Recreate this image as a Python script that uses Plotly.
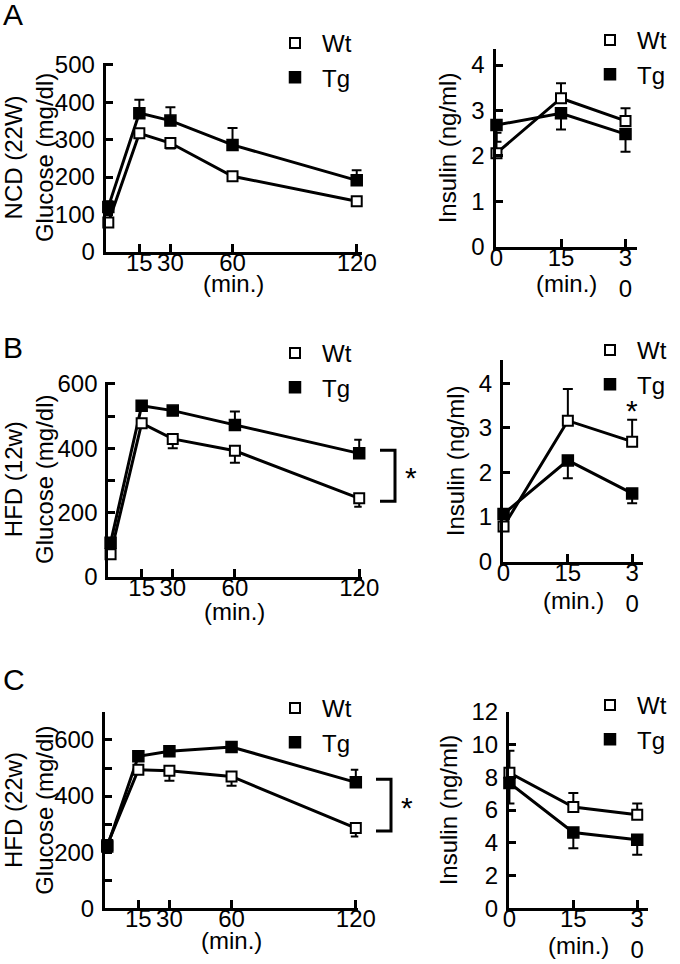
import plotly.graph_objects as go

# ---------------- data ----------------
time_glucose = [0, 15, 30, 60, 120]
time_insulin = [0, 15, 30]
series_names = ["Wt", "Tg"]

# Panel A: NCD (22W)
glu_A_wt = [78, 317, 291, 202, 135]
glu_A_wt_err = [8, 10, 15, 10, 10]
glu_A_tg = [120, 371, 351, 286, 191]
glu_A_tg_err = [15, 36, 36, 45, 27]
ins_A_wt = [2.06, 3.27, 2.77]
ins_A_wt_err = [0.45, 0.33, 0.28]
ins_A_tg = [2.68, 2.94, 2.48]
ins_A_tg_err = [0.37, 0.36, 0.39]

# Panel B: HFD (12w)
glu_B_wt = [70, 478, 429, 392, 244]
glu_B_wt_err = [10, 15, 29, 37, 26]
glu_B_tg = [106, 532, 517, 472, 384]
glu_B_tg_err = [10, 10, 10, 42, 42]
ins_B_wt = [0.79, 3.16, 2.69]
ins_B_wt_err = [0.1, 0.71, 0.49]
ins_B_tg = [1.07, 2.27, 1.53]
ins_B_tg_err = [0.1, 0.40, 0.22]

# Panel C: HFD (22w)
glu_C_wt = [226, 494, 490, 470, 286]
glu_C_wt_err = [15, 10, 35, 33, 30]
glu_C_tg = [220, 542, 560, 575, 449]
glu_C_tg_err = [15, 15, 10, 10, 45]
ins_C_wt = [8.27, 6.18, 5.71]
ins_C_wt_err = [1.35, 0.86, 0.68]
ins_C_tg = [7.65, 4.63, 4.18]
ins_C_tg_err = [1.25, 0.96, 0.91]

# tick labels
glu_x_ticks = [15, 30, 60, 120]
glu_x_ticktext = ["15", "30", "60", "120"]
ins_x_ticks = [0, 15, 30]
ins_x_ticktext = ["0", "15", "3<br>0"]
glu_A_y_ticks = [0, 100, 200, 300, 400, 500]
glu_A_y_ticktext = ["0", "100", "200", "300", "400", "500"]
glu_B_y_ticks = [0, 100, 200, 300, 400, 500, 600]
glu_B_y_ticktext = ["0", "", "200", "", "400", "", "600"]
glu_C_y_ticks = [0, 100, 200, 300, 400, 500, 600, 700]
glu_C_y_ticktext = ["0", "", "200", "", "400", "", "600", ""]
ins_AB_y_ticks = [0, 1, 2, 3, 4]
ins_AB_y_ticktext = ["0", "1", "2", "3", "4"]
ins_C_y_ticks = [0, 2, 4, 6, 8, 10, 12]
ins_C_y_ticktext = ["0", "2", "4", "6", "8", "10", "12"]

panel_letters = ["A", "B", "C"]
glu_titles = ["NCD (22W)<br>Glucose (mg/dl)", "HFD (12w)<br>Glucose (mg/dl)",
              "HFD (22w)<br>Glucose (mg/dl)"]
ins_title = "Insulin (ng/ml)"
x_title = "(min.)"

# ---------------- layout geometry (pixels) ----------------
W, H = 680, 964
FONT = "Liberation Sans, Arial, Helvetica, sans-serif"
FS = 24


def fx(px):
    return px / W


def fy(py):
    return 1 - py / H


# (x_left_px, x_right_px, x_range, y_top_px, y_bottom_px, y_range)
geom = {
    1: (105.7, 361.7, [-1.26, 122.4], 63.1, 251.7, [0, 505]),
    2: (495.5, 636.7, [-0.23, 32.6], 49.2, 246.7, [0, 4.35]),
    3: (108.3, 361.7, [-1.1, 121.2], 381.7, 576.7, [0, 607]),
    4: (502.9, 643.3, [-0.15, 32.6], 360.0, 561.7, [0, 4.52]),
    5: (105.0, 358.3, [-1.1, 121.2], 711.9, 908.3, [0, 700]),
    6: (509.0, 648.3, [-0.1, 32.6], 711.7, 908.3, [0, 12.0]),
}

fig = go.Figure()


def add_panel(idx, x, wt, wt_err, tg, tg_err, wt_up):
    xa = "x" if idx == 1 else f"x{idx}"
    ya = "y" if idx == 1 else f"y{idx}"
    leg = "legend" if idx == 1 else f"legend{idx}"
    for y in (wt, tg):
        fig.add_trace(go.Scatter(
            x=x, y=y, mode="lines", line=dict(color="black", width=3),
            xaxis=xa, yaxis=ya, showlegend=False, hoverinfo="skip",
            cliponaxis=False))
    zero = [0] * len(x)
    err_style = dict(type="data", symmetric=False, color="black",
                     thickness=2, width=5)
    wt_e = dict(err_style, array=wt_err if wt_up else zero,
                arrayminus=zero if wt_up else wt_err)
    tg_e = dict(err_style, array=zero if wt_up else tg_err,
                arrayminus=tg_err if wt_up else zero)
    fig.add_trace(go.Scatter(
        x=x, y=wt, mode="markers", name=series_names[0],
        marker=dict(symbol="square", size=10, color="white",
                    line=dict(color="black", width=2)),
        error_y=wt_e, xaxis=xa, yaxis=ya, legend=leg, cliponaxis=False))
    fig.add_trace(go.Scatter(
        x=x, y=tg, mode="markers", name=series_names[1],
        marker=dict(symbol="square", size=11, color="black",
                    line=dict(color="black", width=1.5)),
        error_y=tg_e, xaxis=xa, yaxis=ya, legend=leg, cliponaxis=False))


add_panel(1, time_glucose, glu_A_wt, glu_A_wt_err, glu_A_tg, glu_A_tg_err, False)
add_panel(2, time_insulin, ins_A_wt, ins_A_wt_err, ins_A_tg, ins_A_tg_err, True)
add_panel(3, time_glucose, glu_B_wt, glu_B_wt_err, glu_B_tg, glu_B_tg_err, False)
add_panel(4, time_insulin, ins_B_wt, ins_B_wt_err, ins_B_tg, ins_B_tg_err, True)
add_panel(5, time_glucose, glu_C_wt, glu_C_wt_err, glu_C_tg, glu_C_tg_err, False)
add_panel(6, time_insulin, ins_C_wt, ins_C_wt_err, ins_C_tg, ins_C_tg_err, True)

tickfont = dict(size=FS, color="black", family=FONT)
layout = dict(
    template="none",
    width=W, height=H, margin=dict(l=0, r=0, t=0, b=0, pad=0, autoexpand=False),
    paper_bgcolor="white", plot_bgcolor="white",
    font=dict(family=FONT, color="black", size=FS),
)

y_ticks = {1: (glu_A_y_ticks, glu_A_y_ticktext), 2: (ins_AB_y_ticks, ins_AB_y_ticktext),
           3: (glu_B_y_ticks, glu_B_y_ticktext), 4: (ins_AB_y_ticks, ins_AB_y_ticktext),
           5: (glu_C_y_ticks, glu_C_y_ticktext), 6: (ins_C_y_ticks, ins_C_y_ticktext)}

for idx, (xl, xr, xrng, yt, yb, yrng) in geom.items():
    xname = "xaxis" if idx == 1 else f"xaxis{idx}"
    yname = "yaxis" if idx == 1 else f"yaxis{idx}"
    xa = "x" if idx == 1 else f"x{idx}"
    ya = "y" if idx == 1 else f"y{idx}"
    is_glu = idx % 2 == 1
    common = dict(showline=True, linecolor="black", linewidth=3, ticks="inside",
                  tickcolor="black", tickwidth=3, showgrid=False, zeroline=False,
                  tickfont=tickfont, fixedrange=True, tickmode="array",
                  automargin=False)
    xax = dict(common, domain=[fx(xl), fx(xr)], range=xrng, anchor=ya, ticklen=8,
               tickvals=glu_x_ticks if is_glu else ins_x_ticks,
               ticktext=glu_x_ticktext if is_glu else ins_x_ticktext,
               ticklabelstandoff=-13)
    tv, tt = y_ticks[idx]
    yax = dict(common, domain=[fy(yb), fy(yt)], range=yrng, anchor=xa, ticklen=7,
               tickvals=tv, ticktext=tt, ticklabelstandoff=3,
               title=dict(text=glu_titles[idx // 2] if is_glu else ins_title,
                          font=dict(size=FS), standoff=5 if is_glu else 8))
    layout[xname] = xax
    layout[yname] = yax

# legends (one per panel)
legend_pos = {1: (268, 21), 2: (583, 18), 3: (268, 331), 4: (583, 328),
              5: (268, 686), 6: (583, 683)}
for idx, (lx, ly) in legend_pos.items():
    lname = "legend" if idx == 1 else f"legend{idx}"
    leg = dict(x=fx(lx), y=fy(ly), xanchor="left", yanchor="top",
               bgcolor="rgba(0,0,0,0)", borderwidth=0, itemwidth=44,
               font=dict(size=24, color="black", family=FONT),
               tracegroupgap=0)
    if idx % 2 == 0:
        leg["entrywidth"] = 1
        leg["entrywidthmode"] = "pixels"
    layout[lname] = leg

annotations = []
# panel letters
for letter, py in zip(panel_letters, [15, 347, 679]):
    annotations.append(dict(text=letter, x=fx(1), y=fy(py), xref="paper", yref="paper",
                            xanchor="left", yanchor="middle", showarrow=False,
                            font=dict(size=30, color="black", family=FONT)))
# (min.) x-axis labels
for idx, py in [(1, 283), (2, 283), (3, 611), (4, 600), (5, 940), (6, 945)]:
    xref = "x domain" if idx == 1 else f"x{idx} domain"
    annotations.append(dict(text=x_title, x=0.5, xref=xref, y=fy(py),
                            yref="paper", xanchor="center", yanchor="middle",
                            showarrow=False, font=dict(size=FS, color="black", family=FONT)))

shapes = []


def ypix(idx, val):
    xl, xr, xrng, yt, yb, yrng = geom[idx]
    return yb - (val - yrng[0]) / (yrng[1] - yrng[0]) * (yb - yt)


# significance brackets at 120 min (panels B and C glucose)
for idx, wt, tg, xb in [(3, glu_B_wt, glu_B_tg, 380), (5, glu_C_wt, glu_C_tg, 376)]:
    ytop = ypix(idx, tg[-1]) - 3
    ybot = ypix(idx, wt[-1]) + 3
    shapes.append(dict(type="path", xref="paper", yref="paper",
                       path=f"M {fx(xb)},{fy(ytop)} L {fx(xb + 15)},{fy(ytop)} "
                            f"L {fx(xb + 15)},{fy(ybot)} L {fx(xb)},{fy(ybot)}",
                       line=dict(color="black", width=3)))
    annotations.append(dict(text="*", x=fx(xb + 31), y=fy((ytop + ybot) / 2), xref="paper",
                            yref="paper", xanchor="center", yanchor="middle",
                            yshift=-2, showarrow=False,
                            font=dict(size=30, color="black", family=FONT)))

# star above Wt at 30 min in panel B insulin
annotations.append(dict(text="*", x=30, y=ins_B_wt[-1] + ins_B_wt_err[-1], xref="x4", yref="y4",
                        xanchor="center", yanchor="bottom", yshift=-9, showarrow=False,
                        font=dict(size=30, color="black", family=FONT)))

layout["annotations"] = annotations
layout["shapes"] = shapes
fig.update_layout(**layout)
fig.write_html("out.html", config={"displayModeBar": False},
               post_script="document.body.style.margin='0px';")
